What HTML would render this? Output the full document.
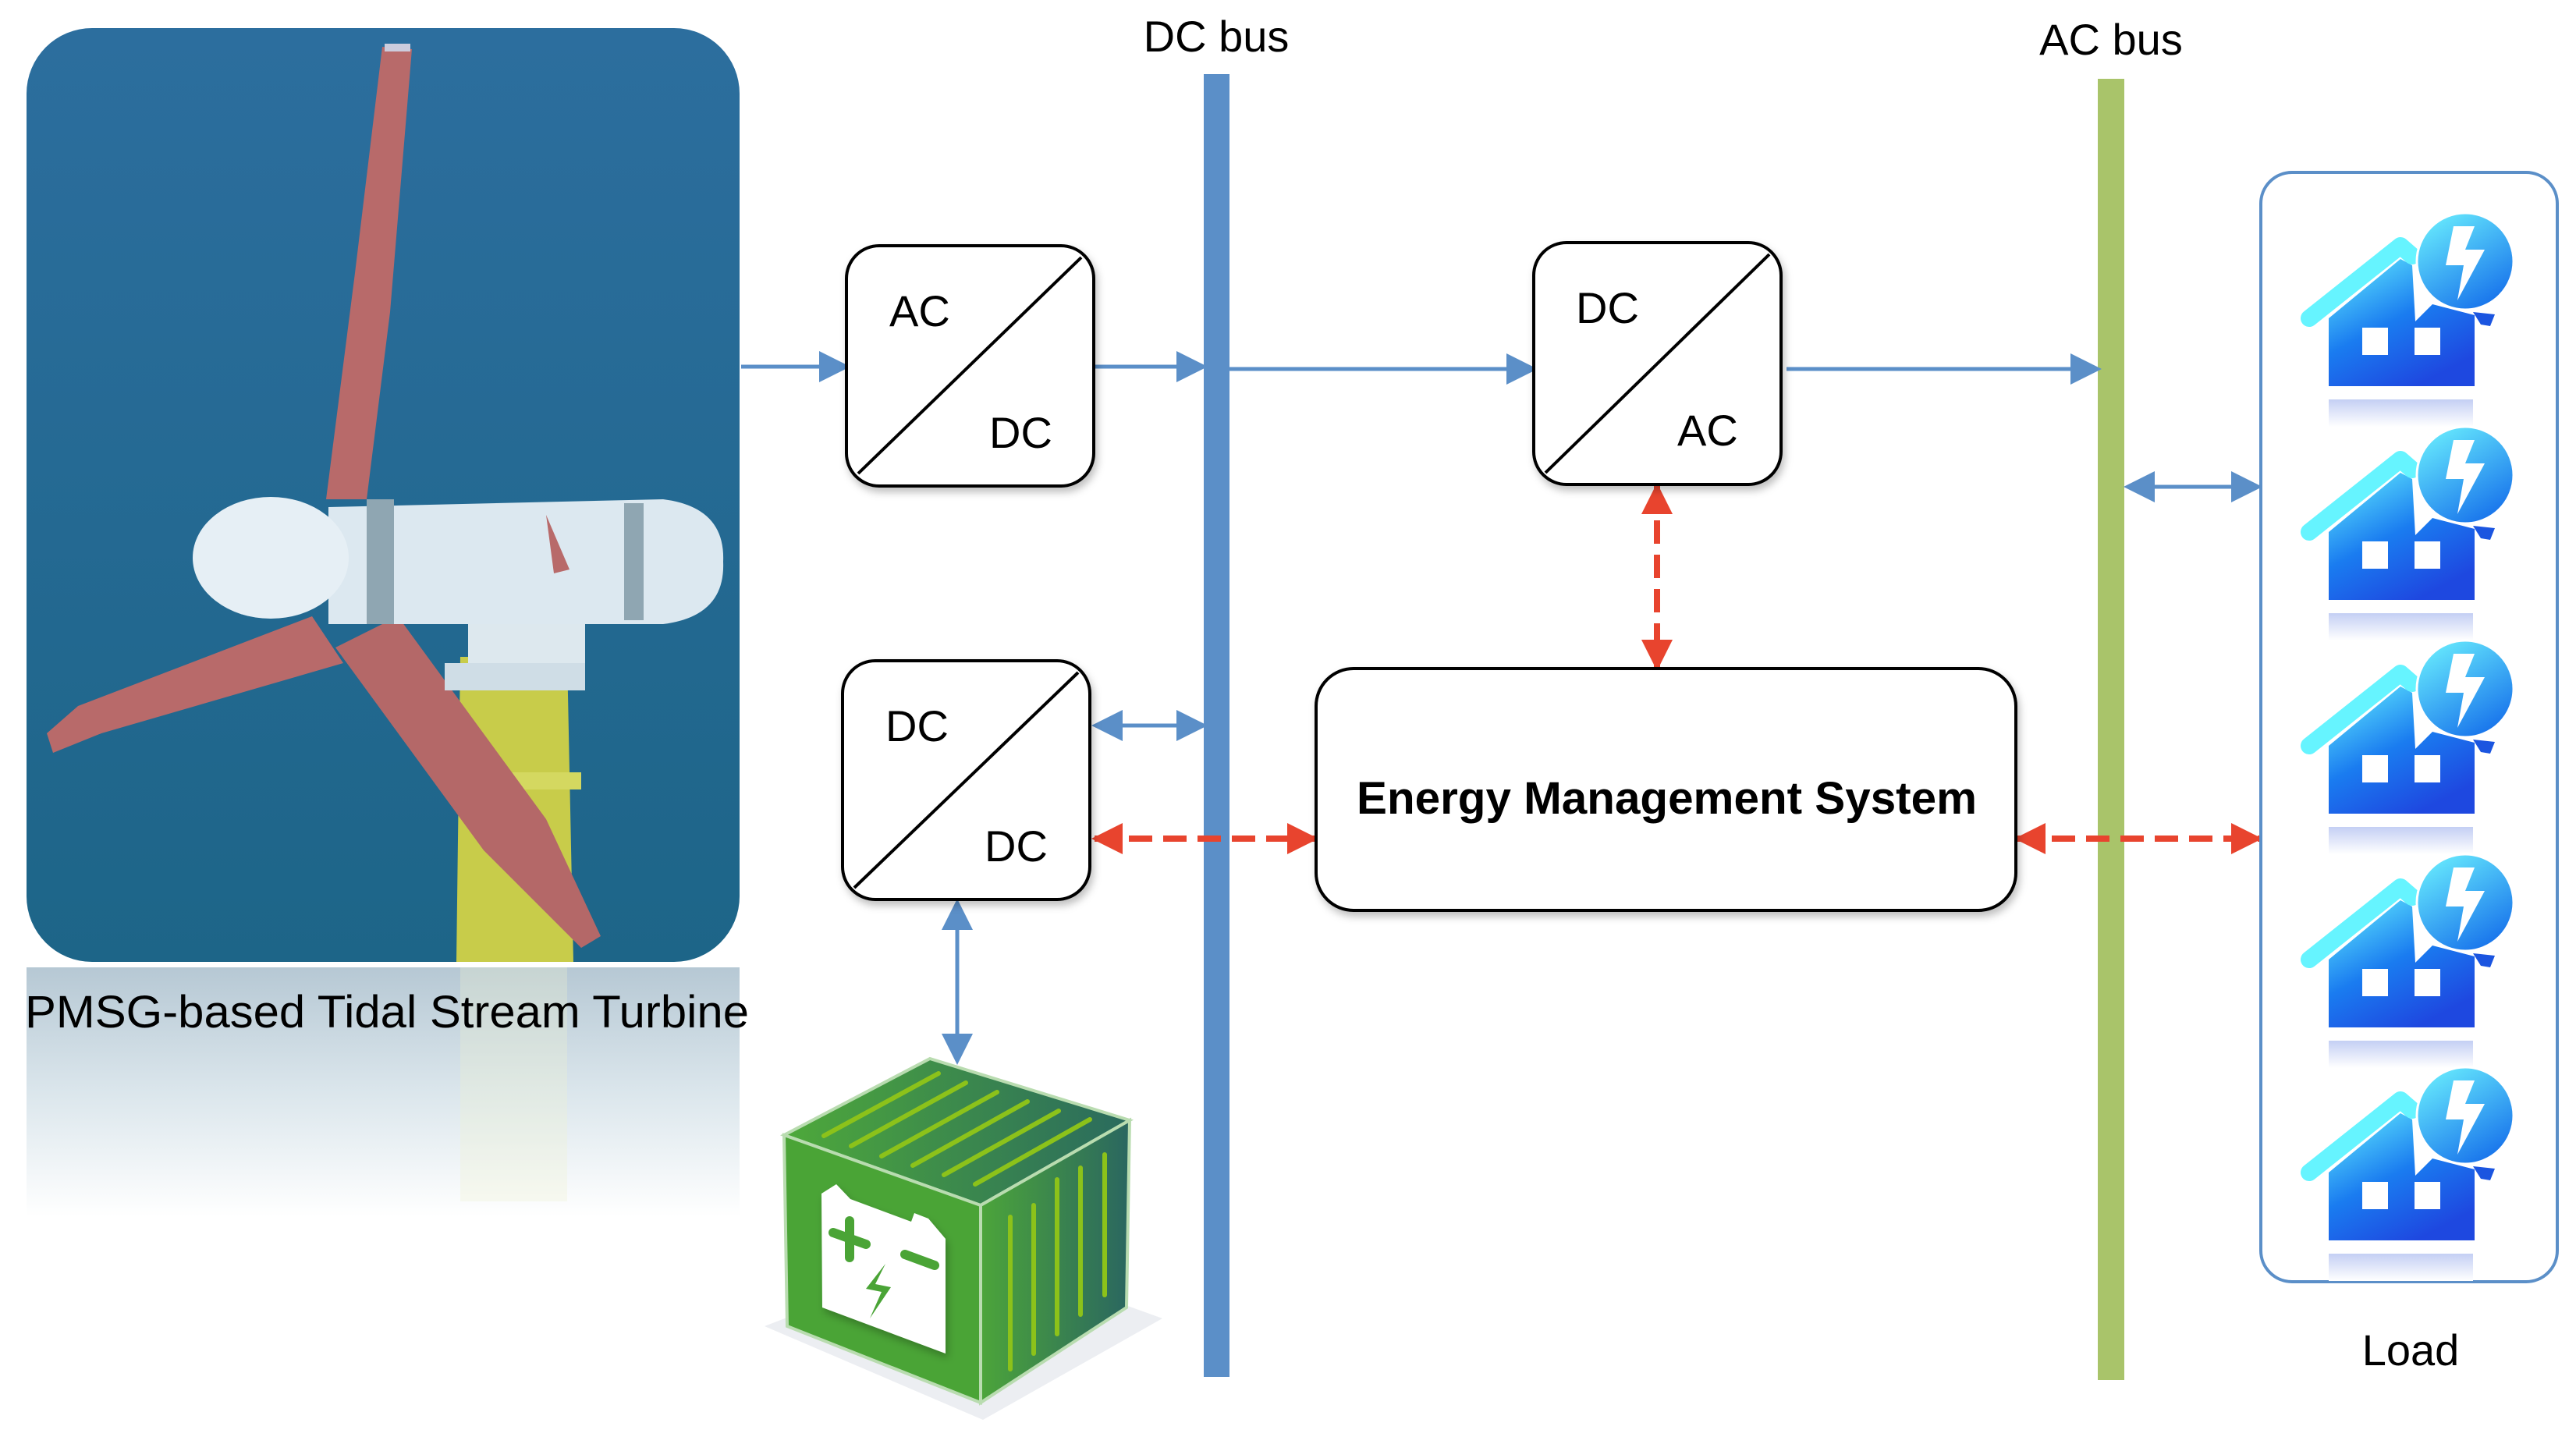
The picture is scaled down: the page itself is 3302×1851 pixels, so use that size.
<!DOCTYPE html>
<html><head><meta charset="utf-8"><style>
html,body{margin:0;padding:0;background:#fff}
svg{display:block}
text{font-family:"Liberation Sans",sans-serif}
</style></head><body>
<svg width="3302" height="1851" viewBox="0 0 3302 1851" xmlns="http://www.w3.org/2000/svg">
<defs>
<linearGradient id="sea" x1="0" y1="0" x2="0" y2="1"><stop offset="0" stop-color="#2c6e9e"/><stop offset="1" stop-color="#1d6588"/></linearGradient>
<linearGradient id="refl" x1="0" y1="0" x2="0" y2="1"><stop offset="0" stop-color="#b6c8d4"/><stop offset="0.5" stop-color="#dbe6ec"/><stop offset="1" stop-color="#ffffff"/></linearGradient>
<linearGradient id="hg" x1="0" y1="0" x2="0.6" y2="1"><stop offset="0" stop-color="#66f2ff"/><stop offset="0.55" stop-color="#1a7cf0"/><stop offset="1" stop-color="#1e48e0"/></linearGradient>
<linearGradient id="cg" x1="0" y1="0" x2="0.6" y2="1"><stop offset="0" stop-color="#6ff6ff"/><stop offset="1" stop-color="#1b78ec"/></linearGradient>
<linearGradient id="bt" x1="0" y1="0" x2="1" y2="0"><stop offset="0" stop-color="#4ea93a"/><stop offset="1" stop-color="#2a6a5e"/></linearGradient>
<linearGradient id="br" x1="0" y1="0" x2="1" y2="0"><stop offset="0" stop-color="#4ca53a"/><stop offset="1" stop-color="#2a6660"/></linearGradient>
<linearGradient id="rf" x1="0" y1="0" x2="0" y2="1"><stop offset="0" stop-color="#c4cff4"/><stop offset="1" stop-color="#ffffff"/></linearGradient>
<filter id="sh" x="-10%" y="-10%" width="130%" height="130%"><feDropShadow dx="3" dy="6" stdDeviation="5" flood-color="#000" flood-opacity="0.25"/></filter>
<marker id="ab" markerWidth="8" markerHeight="8" refX="7" refY="4" orient="auto-start-reverse" markerUnits="strokeWidth"><path d="M0,0 L8,4 L0,8 z" fill="#5b8fc8"/></marker>
<marker id="ar" markerWidth="5" markerHeight="5" refX="4.5" refY="2.5" orient="auto-start-reverse" markerUnits="strokeWidth"><path d="M0,0 L5,2.5 L0,5 z" fill="#e8442e"/></marker>
<g id="house">
  <rect x="45" y="272" width="185" height="35" fill="url(#rf)"/>
  <polygon points="45,168 137,92 152,100 156,172 178,150 232,164 232,255 45,255" fill="url(#hg)"/>
  <polyline points="20,168 137,75 152,88" fill="none" stroke="#66f4ff" stroke-width="22" stroke-linecap="round" stroke-linejoin="round"/>
  <circle cx="220" cy="95" r="62" fill="url(#cg)" stroke="#fff" stroke-width="3"/>
  <polygon points="205,50 232,50 220,80 245,80 210,145 218,100 195,100" fill="#fff"/>
  <polygon points="230,160 258,163 252,178 240,176" fill="#1b55e0"/>
  <rect x="88" y="180" width="33" height="35" fill="#fff"/>
  <rect x="155" y="180" width="33" height="35" fill="#fff"/>
</g>
<clipPath id="pc"><rect x="34" y="36" width="914" height="1197" rx="84"/></clipPath>
</defs>

<!-- reflection -->
<rect x="34" y="1240" width="914" height="320" fill="url(#refl)"/>
<rect x="590" y="1240" width="137" height="300" fill="#eef3d0" opacity="0.3"/>
<!-- photo -->
<g clip-path="url(#pc)">
<rect x="34" y="36" width="914" height="1197" fill="url(#sea)"/>
<path d="M590,842 L727,842 L735,1233 L585,1233 z" fill="#c8cc4a"/>
<rect x="570" y="990" width="175" height="22" fill="#d4d860"/>
<polygon points="490,60 528,63 500,400 470,640 418,640 455,350" fill="#b86a6a"/>
<rect x="493" y="56" width="33" height="10" fill="#ccd"/>
<polygon points="400,790 440,850 130,940 68,965 60,940 100,905" fill="#b86a6a"/>
<polygon points="430,830 510,790 700,1050 770,1200 745,1215 620,1090" fill="#b46868"/>
<rect x="600" y="800" width="150" height="80" fill="#dde8ee"/>
<rect x="570" y="850" width="180" height="35" fill="#cfdde6"/>
<path d="M421,650 L850,640 Q930,650 927,720 Q930,790 850,800 L421,800 z" fill="#dce8f0"/>
<ellipse cx="347" cy="715" rx="100" ry="78" fill="#e6eff5"/>
<rect x="470" y="640" width="35" height="160" fill="#8fa6b2"/>
<rect x="800" y="645" width="25" height="150" fill="#8fa6b2"/>
<polygon points="700,660 730,730 710,735" fill="#b86a6a"/>
</g>
<text x="32" y="1317" font-size="58" textLength="928" lengthAdjust="spacingAndGlyphs" fill="#000">PMSG-based Tidal Stream Turbine</text>

<!-- buses -->
<rect x="1543" y="95" width="33" height="1670" fill="#5b8fc8"/>
<rect x="2689" y="101" width="34" height="1668" fill="#a9c46a"/>
<text x="1559" y="66" font-size="56" text-anchor="middle">DC bus</text>
<text x="2706" y="70" font-size="56" text-anchor="middle">AC bus</text>

<!-- blue arrows -->
<g stroke="#5b8fc8" stroke-width="5" fill="none">
<line x1="950" y1="470" x2="1085" y2="470" marker-end="url(#ab)"/>
<line x1="1403" y1="470" x2="1543" y2="470" marker-end="url(#ab)"/>
<line x1="1576" y1="473" x2="1966" y2="473" marker-end="url(#ab)"/>
<line x1="2290" y1="473" x2="2689" y2="473" marker-end="url(#ab)"/>
<line x1="2727" y1="624" x2="2895" y2="624" marker-start="url(#ab)" marker-end="url(#ab)"/>
<line x1="1404" y1="930" x2="1543" y2="930" marker-start="url(#ab)" marker-end="url(#ab)"/>
<line x1="1227" y1="1157" x2="1227" y2="1360" marker-start="url(#ab)" marker-end="url(#ab)"/>
</g>
<!-- red dashed -->
<g stroke="#e8442e" stroke-width="8" fill="none" stroke-dasharray="30,14">
<line x1="1403" y1="1075" x2="1686" y2="1075" marker-start="url(#ar)" marker-end="url(#ar)"/>
<line x1="2586" y1="1075" x2="2896" y2="1075" marker-start="url(#ar)" marker-end="url(#ar)"/>
<line x1="2124" y1="623" x2="2124" y2="856" marker-start="url(#ar)" marker-end="url(#ar)"/>
</g>

<!-- converters -->
<g fill="#fff" stroke="#000" stroke-width="4" filter="url(#sh)">
<rect x="1085" y="315" width="317" height="308" rx="42"/>
<rect x="1080" y="847" width="317" height="306" rx="42"/>
<rect x="1966" y="311" width="317" height="310" rx="42"/>
<rect x="1687" y="857" width="897" height="310" rx="48"/>
</g>
<g stroke="#000" stroke-width="4">
<line x1="1100" y1="607" x2="1386" y2="330"/>
<line x1="1095" y1="1138" x2="1382" y2="862"/>
<line x1="1981" y1="606" x2="2268" y2="326"/>
</g>
<g font-size="56" fill="#000">
<text x="1140" y="418">AC</text><text x="1268" y="574">DC</text>
<text x="1135" y="950">DC</text><text x="1262" y="1104">DC</text>
<text x="2020" y="414">DC</text><text x="2150" y="571">AC</text>
</g>
<text x="1739" y="1043" font-size="58" font-weight="bold" textLength="795" lengthAdjust="spacingAndGlyphs">Energy Management System</text>

<!-- load -->
<rect x="2898" y="221" width="380" height="1422" rx="40" fill="none" stroke="#5b8fc8" stroke-width="4"/>
<use href="#house" x="2940" y="240"/>
<use href="#house" x="2940" y="514"/>
<use href="#house" x="2940" y="788"/>
<use href="#house" x="2940" y="1062"/>
<use href="#house" x="2940" y="1335"/>
<text x="3090" y="1750" font-size="56" text-anchor="middle">Load</text>

<!-- battery -->
<polygon points="980,1700 1260,1820 1490,1690 1240,1600" fill="#eceef2"/>
<polygon points="1005,1455 1192,1357 1448,1436 1257,1545" fill="url(#bt)" stroke="#b9dcb0" stroke-width="4"/>
<polygon points="1005,1455 1257,1545 1257,1798 1009,1700" fill="#4aa436" stroke="#b9dcb0" stroke-width="4"/>
<polygon points="1257,1545 1448,1436 1444,1676 1257,1798" fill="url(#br)" stroke="#b9dcb0" stroke-width="4"/>
<g stroke="#8cc21a" stroke-width="6" stroke-linecap="round">
<line x1="1056" y1="1456" x2="1203" y2="1376"/><line x1="1091" y1="1469" x2="1238" y2="1388"/>
<line x1="1130" y1="1482" x2="1278" y2="1400"/><line x1="1170" y1="1494" x2="1317" y2="1412"/>
<line x1="1210" y1="1506" x2="1357" y2="1424"/><line x1="1250" y1="1518" x2="1397" y2="1435"/>
<line x1="1295" y1="1560" x2="1295" y2="1755"/><line x1="1325" y1="1545" x2="1325" y2="1735"/>
<line x1="1355" y1="1512" x2="1355" y2="1710"/><line x1="1385" y1="1497" x2="1385" y2="1685"/>
<line x1="1416" y1="1480" x2="1416" y2="1660"/>
</g>
<polygon points="1053,1530 1072,1518 1090,1537 1168,1566 1172,1555 1190,1562 1212,1588 1212,1735 1054,1676" fill="#fff" filter="url(#sh)"/>
<g stroke="#4aa436" stroke-width="12" stroke-linecap="round">
<line x1="1068" y1="1580" x2="1110" y2="1595"/><line x1="1089" y1="1565" x2="1089" y2="1612"/>
<line x1="1160" y1="1608" x2="1198" y2="1622"/>
</g>
<polygon points="1135,1620 1110,1652 1130,1656 1115,1690 1142,1650 1122,1646" fill="#4aa436"/>
</svg>
</body></html>
